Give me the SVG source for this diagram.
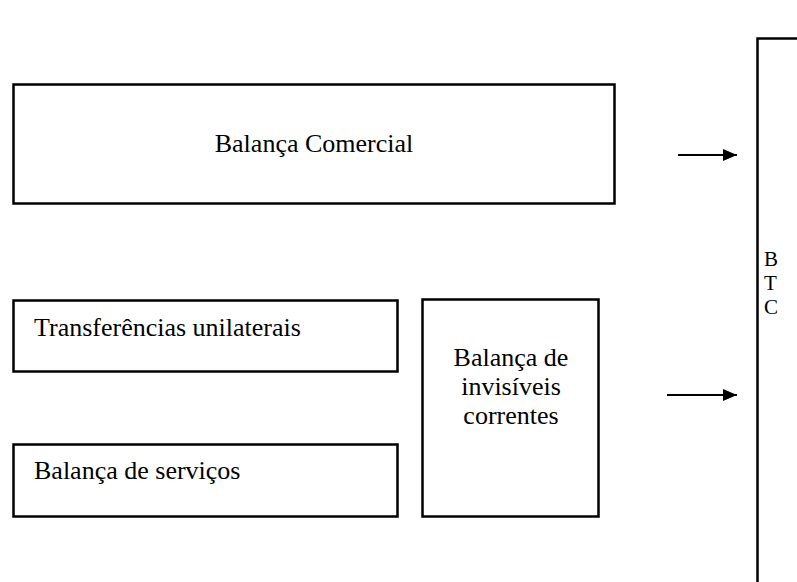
<svg xmlns="http://www.w3.org/2000/svg" width="797" height="582" viewBox="0 0 797 582">
<defs>
<style>
.box{fill:#fff;stroke:#000;stroke-width:2.5}
.t{font-family:"Liberation Serif","Times New Roman",serif;font-size:26px;fill:#000}
.c{text-anchor:middle}
.s{font-size:21px}
.con{stroke:#000;stroke-width:2;fill:none}
</style>
<marker id="ah" markerWidth="14" markerHeight="12" refX="14" refY="6" orient="auto" markerUnits="userSpaceOnUse">
<path d="M0,0 L14,6 L0,12 Z" fill="#000"/>
</marker>
</defs>
<rect width="797" height="582" fill="#fff"/>
<g id="balanca-comercial">
<rect class="box" x="13.5" y="84.5" width="601" height="119"/>
<text class="t c" x="314" y="152">Balança Comercial</text>
</g>
<g id="transferencias">
<rect class="box" x="13.5" y="300.5" width="384" height="71"/>
<text class="t" x="34" y="336">Transferências unilaterais</text>
</g>
<g id="servicos">
<rect class="box" x="13.5" y="444.5" width="384" height="72"/>
<text class="t" x="34" y="479">Balança de serviços</text>
</g>
<g id="invisiveis">
<rect class="box" x="422.5" y="299.5" width="176" height="217"/>
<text class="t c" x="511" y="366">Balança de</text>
<text class="t c" x="511" y="395">invisíveis</text>
<text class="t c" x="511" y="424">correntes</text>
</g>
<g id="btc">
<rect class="box" x="757.5" y="38.5" width="60" height="560"/>
<text class="t s" x="764" y="266">B</text>
<text class="t s" x="764" y="290">T</text>
<text class="t s" x="764" y="314">C</text>
</g>
<g id="connectors">
<line class="con" x1="678" y1="155" x2="737" y2="155" marker-end="url(#ah)"/>
<line class="con" x1="667" y1="395" x2="737" y2="395" marker-end="url(#ah)"/>
</g>
</svg>
